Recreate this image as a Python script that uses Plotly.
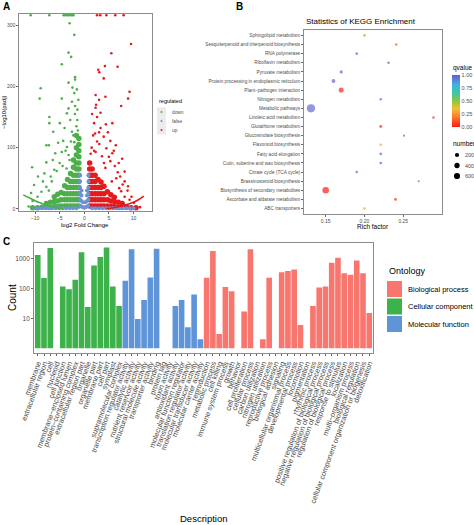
import math
import plotly.graph_objects as go

W, H = 474, 525
FONT = "Liberation Sans, Arial, sans-serif"
GREY_TXT = "#4D4D4D"
BORDER = "#8C8C8C"


def px(x):
    return x / W


def py(y):
    return 1 - y / H


# ---------------- Panel A : volcano ----------------
C_DOWN, C_FALSE, C_UP = "#4DAF4A", "#6A93D8", "#E41A1C"

down_sparse = [(-2.98, 303), (-2.03, 284), (-3.2, 255), (-2.66, 248), (-4.56, 236), (-1.87, 215), (-1.87, 211),
               (-3.2, 206), (-8.86, 197), (-9.07, 180), (-4.56, 180), (-2.03, 189), (-2.5, 175), (-1.87, 168),
               (-3.2, 164), (-1.38, 162), (-7.1, 150), (-7.1, 140), (-3.52, 156), (-2.85, 145), (-4.97, 140),
               (-1.42, 145), (-4.0, 132), (-2.5, 126), (-6.3, 126), (-7.7, 104), (-7.2, 104), (-5.3, 108),
               (-4.28, 111), (-3.52, 101), (-2.03, 109), (-4.56, 93), (-5.9, 91), (-3.2, 88), (-10.6, 68),
               (-7.7, 76), (-6.4, 80), (-6.1, 64), (-8.1, 58), (-9.4, 53), (-6.8, 53), (-8.4, 45), (-10.2, 39),
               (-7.7, 36), (-8.7, 28), (-10.8, 26), (-9.5, 20), (-10.5, 13), (-11.3, 4), (-1.6, 135), (-2.2, 120),
               (-1.3, 128), (-2.7, 110), (-3.8, 95), (-5.0, 75), (-4.4, 70), (-5.6, 62), (-6.6, 45), (-7.2, 30),
               (-3.0, 80), (-3.6, 66), (-1.9, 155), (-1.2, 178), (-2.4, 198), (-1.5, 195),
               (-4.2, 316), (-3.9, 316), (-3.5, 316), (-3.2, 316), (-2.85, 316), (-2.5, 316), (-2.2, 316),
               (-10.9, 316), (-7.1, 316)]
down_core = [(-1.1, 5), (-1.1, 15), (-1.1, 25), (-1.1, 35), (-1.1, 45), (-1.1, 55), (-1.1, 65), (-1.1, 75),
             (-1.1, 85), (-1.1, 95), (-1.1, 105), (-1.1, 115),
             (-1.6, 5), (-1.6, 15), (-1.6, 25), (-1.6, 35), (-1.6, 45), (-1.6, 55), (-1.6, 65), (-1.6, 75),
             (-1.6, 88), (-1.6, 100), (-1.6, 120),
             (-2.2, 5), (-2.2, 15), (-2.2, 25), (-2.2, 35), (-2.2, 45), (-2.2, 55), (-2.2, 68), (-2.2, 80),
             (-2.8, 5), (-2.8, 15), (-2.8, 25), (-2.8, 35), (-2.8, 45), (-2.8, 58),
             (-3.4, 5), (-3.4, 15), (-3.4, 25), (-3.4, 35), (-3.4, 48),
             (-4.0, 5), (-4.0, 15), (-4.0, 25), (-4.0, 38),
             (-4.7, 5), (-4.7, 15), (-4.7, 27),
             (-5.4, 4), (-5.4, 13), (-5.4, 24),
             (-6.1, 4), (-6.1, 12), (-6.1, 20),
             (-6.9, 3), (-6.9, 11), (-7.7, 3), (-7.7, 9), (-8.6, 3), (-9.5, 2), (-10.5, 2)]

up_sparse = [(9.5, 269), (5.5, 254), (6.77, 232), (4.2, 233), (2.85, 227), (3.05, 223), (3.95, 213), (9.2, 191),
             (8.9, 180), (7.5, 168), (2.3, 186), (3.0, 178), (4.3, 183), (2.3, 165), (3.3, 157), (2.6, 150),
             (5.7, 140), (4.4, 138), (3.3, 132), (2.2, 123), (3.95, 118), (5.3, 111), (3.05, 106), (6.4, 104),
             (4.5, 99), (2.3, 93), (5.7, 91), (3.6, 86), (7.7, 82), (5.3, 78), (6.2, 70), (4.3, 67), (8.2, 61),
             (7.3, 53), (5.6, 45), (8.2, 45), (8.9, 37), (7.1, 34), (7.5, 29), (9.6, 20), (8.2, 20), (10.1, 10),
             (11.3, 3), (1.5, 100), (1.8, 120), (2.0, 95), (1.3, 90), (2.6, 110), (2.0, 140), (1.6, 155),
             (3.0, 125), (4.8, 125), (6.0, 95), (7.0, 75), (6.8, 60), (5.0, 85), (4.0, 75), (8.8, 30), (7.8, 40),
             (9.2, 15), (6.5, 50), (2.4, 170),
             (2.6, 316), (3.25, 316), (4.5, 316), (6.3, 316), (8.0, 316)]
up_core = [(1.1, 5), (1.1, 15), (1.1, 25), (1.1, 35), (1.1, 45), (1.1, 55), (1.1, 65), (1.1, 75),
           (1.6, 5), (1.6, 15), (1.6, 25), (1.6, 35), (1.6, 45), (1.6, 55), (1.6, 65),
           (2.2, 5), (2.2, 15), (2.2, 25), (2.2, 35), (2.2, 45), (2.2, 55),
           (2.8, 5), (2.8, 15), (2.8, 25), (2.8, 35), (2.8, 48),
           (3.4, 5), (3.4, 15), (3.4, 25), (3.4, 35), (3.4, 44),
           (4.0, 5), (4.0, 15), (4.0, 25), (4.0, 37),
           (4.7, 5), (4.7, 15), (4.7, 28),
           (5.4, 4), (5.4, 13), (5.4, 23),
           (6.1, 4), (6.1, 12), (6.1, 19),
           (6.9, 3), (6.9, 11), (7.7, 3), (7.7, 9), (8.6, 3), (9.5, 2), (10.5, 2)]

false_pts = [(-0.85, 5), (-0.85, 15), (-0.85, 25), (-0.85, 35), (-0.85, 45), (-0.85, 55),
             (0.85, 5), (0.85, 15), (0.85, 25), (0.85, 35), (0.85, 45), (0.85, 55),
             (-0.55, 4), (-0.55, 13), (-0.55, 22), (-0.55, 30), (0.55, 4), (0.55, 13), (0.55, 22), (0.55, 30),
             (-0.25, 3), (-0.25, 11), (0.25, 3), (0.25, 11), (0.0, 2),
             (-10, 1), (-9.3, 1), (-8.6, 1), (-7.9, 1), (-7.2, 1), (-6.5, 1), (-5.8, 1), (-5.1, 1), (-4.4, 1),
             (-3.7, 1), (-3.0, 1), (-2.3, 1), (-1.6, 1), (1.6, 1), (2.3, 1), (3.0, 1), (3.7, 1), (4.4, 1),
             (5.1, 1), (5.8, 1), (6.5, 1), (7.2, 1), (7.9, 1), (8.6, 1), (9.3, 1), (10.0, 1)]

down_curve = [(-12.4, 23), (-11, 17.5), (-10, 13.5), (-9, 10), (-8, 7), (-7, 4.5), (-6, 2.5), (-5, 1.2),
              (-4.3, 0.5)]
up_curve = [(4.5, 0.5), (5.3, 1.2), (6, 2), (7, 3.5), (8, 5.5), (9, 8), (10, 11), (11, 15), (12.1, 21)]

# ---------------- Panel B : KEGG ----------------
kegg_terms = ["Sphingolipid metabolism", "Sesquiterpenoid and triterpenoid biosynthesis", "RNA polymerase",
              "Riboflavin metabolism", "Pyruvate metabolism", "Protein processing in endoplasmic reticulum",
              "Plant\u2212pathogen interaction", "Nitrogen metabolism", "Metabolic pathways",
              "Linoleic acid metabolism", "Glutathione metabolism", "Glucosinolate biosynthesis",
              "Flavonoid biosynthesis", "Fatty acid elongation", "Cutin, suberine and wax biosynthesis",
              "Citrate cycle (TCA cycle)", "Brassinosteroid biosynthesis", "Biosynthesis of secondary metabolites",
              "Ascorbate and aldarate metabolism", "ABC transporters"]
kegg_rich = [0.20, 0.241, 0.19, 0.231, 0.17, 0.16, 0.17, 0.221, 0.131, 0.289, 0.221, 0.251, 0.221, 0.221,
             0.221, 0.19, 0.27, 0.15, 0.24, 0.20]
kegg_q = [0.52, 0.12, 1.0, 1.0, 1.0, 0.98, 0.02, 1.0, 0.96, 0.04, 0.03, 1.0, 0.3, 1.0, 1.0, 1.0, 1.0, 0.0, 0.03,
          0.3]
kegg_n = [40, 30, 35, 25, 70, 150, 350, 25, 1250, 30, 60, 10, 40, 30, 35, 30, 8, 700, 50, 45]
size_legend = [200, 400, 600]
q_ticks = [0, 0.25, 0.5, 0.75, 1.0]


def dot_px(n):
    return 1.5 + 0.19 * math.sqrt(n)


q_scale = [[0, "#FF1A1A"], [0.2, "#FF7A2E"], [0.35, "#F0C030"], [0.5, "#8CC63F"], [0.65, "#3CC8A0"],
           [0.8, "#40B5E5"], [1, "#6A5ACD"]]

# ---------------- Panel C : GO ----------------
go_cc = ["membrane", "extracellular region", "cell", "nucleoid", "cell junction", "membrane\u2212enclosed lumen",
         "protein\u2212containing complex", "extracellular region part", "organelle", "organelle part",
         "membrane part", "cell part", "symplast", "supramolecular complex"]
go_cc_n = [1300, 220, 2200, 1, 115, 93, 194, 1600, 24, 575, 1100, 2300, 115, 26]
go_mf = ["transcription regulator activity", "catalytic activity", "nutrient reservoir activity",
         "structural molecule activity", "transporter activity", "binding", "protein tag", "toxin activity",
         "antioxidant activity", "molecular function regulator", "translation regulator activity",
         "molecular transducer activity", "molecular carrier activity"]
go_mf_n = [180, 2000, 9.5, 41, 230, 2100, 1, 1, 26, 41, 5, 62, 2]
go_bp = ["reproduction", "metabolic process", "cell killing", "immune system process", "growth", "behavior",
         "cell proliferation", "cellular process", "carbon utilization", "nitrogen utilization",
         "reproductive process", "biological adhesion", "signaling", "multicellular organismal process",
         "developmental process", "locomotion", "pigmentation", "rhythmic process",
         "positive regulation of biological process", "negative regulation of biological process",
         "regulation of biological process", "response to stimulus", "localization", "multi\u2212organism process",
         "biological regulation", "cellular component organization or biogenesis", "detoxification"]
go_bp_n = [225, 1750, 3, 110, 80, 1, 17, 2000, 1, 2, 225, 1, 340, 380, 420, 6, 1, 26, 106, 115, 710, 1040, 315,
           285, 850, 315, 15]
go_order = go_cc + go_mf + go_bp
ont_names = ["Biological process", "Cellular component", "Molecular function"]
ont_colors = ["#F8766D", "#3DB14A", "#5E95D8"]

fig = go.Figure()

# ---- A traces
for pts, col, sz in [(down_core, C_DOWN, 5.5), (up_core, C_UP, 5.5), (down_sparse, C_DOWN, 2.6),
                     (up_sparse, C_UP, 2.6), (false_pts, C_FALSE, 4)]:
    fig.add_trace(go.Scatter(x=[p[0] for p in pts], y=[p[1] for p in pts], mode="markers",
                             marker=dict(color=col, size=sz, line=dict(width=0)), xaxis="x", yaxis="y",
                             showlegend=False, hoverinfo="skip"))
for pts, col in [(down_curve, C_DOWN), (up_curve, C_UP)]:
    fig.add_trace(go.Scatter(x=[p[0] for p in pts], y=[p[1] for p in pts], mode="lines",
                             line=dict(color=col, width=1.6, shape="spline"), xaxis="x", yaxis="y",
                             showlegend=False, hoverinfo="skip"))

# ---- B trace
fig.add_trace(go.Scatter(
    x=kegg_rich, y=kegg_terms, mode="markers", xaxis="x2", yaxis="y2", showlegend=False,
    marker=dict(size=[dot_px(n) for n in kegg_n], color=kegg_q, colorscale=q_scale, cmin=0, cmax=1,
                line=dict(width=0),
                colorbar=dict(x=px(452), xanchor="left", y=py(101), yanchor="middle", len=52, lenmode="pixels",
                              thickness=8, thicknessmode="pixels", tickvals=q_ticks,
                              ticktext=["%.2f" % t for t in q_ticks], tickfont=dict(size=5.5, color=GREY_TXT),
                              outlinewidth=0, ticks="", xpad=0, ypad=0)),
))

# ---- C traces
groups = [(go_bp, go_bp_n, 0), (go_cc, go_cc_n, 1), (go_mf, go_mf_n, 2)]
for names, counts, k in groups:
    fig.add_trace(go.Bar(x=names, y=[c - 1 for c in counts], base=1, marker=dict(color=ont_colors[k],
                                                                                  line=dict(width=0)),
                         xaxis="x3", yaxis="y3", showlegend=False, name=ont_names[k]))

axis_common = dict(showline=True, mirror=True, linecolor=BORDER, linewidth=0.8, showgrid=False, zeroline=False,
                   ticks="outside", ticklen=2, tickcolor="#666666", tickwidth=0.6, automargin=False)

fig.update_layout(
    width=W, height=H, margin=dict(l=0, r=0, t=0, b=0, autoexpand=False), paper_bgcolor="white",
    plot_bgcolor="white",
    font=dict(family=FONT, color="black"),
    bargap=0.1,
    xaxis=dict(domain=[px(19.3), px(151.7)], range=[-13.2, 13.7], tickvals=[-10, -5, 0, 5, 10],
               tickfont=dict(size=5, color=GREY_TXT), anchor="y", **axis_common),
    yaxis=dict(domain=[py(211), py(14)], range=[-3.3, 318], tickvals=[0, 100, 200, 300],
               tickfont=dict(size=5, color=GREY_TXT), anchor="x", **axis_common),
    xaxis2=dict(domain=[px(304), px(442)], range=[0.122, 0.300], tickvals=[0.15, 0.20, 0.25],
                ticktext=["0.15", "0.20", "0.25"], tickfont=dict(size=5, color=GREY_TXT), anchor="y2",
                **axis_common),
    yaxis2=dict(domain=[py(214), py(30)], type="category", categoryorder="array",
                categoryarray=kegg_terms[::-1], range=[-0.6, 19.6], tickfont=dict(size=4.7, color=GREY_TXT),
                anchor="x2", **axis_common),
    xaxis3=dict(domain=[px(34), px(373)], type="category", categoryorder="array", categoryarray=go_order,
                tickmode="array", tickvals=go_order, ticktext=go_order,
                range=[-0.6, len(go_order) - 0.4], tickangle=-70, tickfont=dict(size=7.4, color=GREY_TXT),
                anchor="y3", **axis_common),
    yaxis3=dict(domain=[py(353.3), py(243.3)], type="log", range=[-0.165, 3.5], tickvals=[10, 100, 1000],
                ticktext=["10", "100", "1000"], tickfont=dict(size=6.5, color=GREY_TXT), anchor="x3",
                **axis_common),
)

ann = []


def text(x, y, s, size, xanchor="center", color="black", angle=0, bold=False):
    ann.append(dict(x=px(x), y=py(y), xref="paper", yref="paper", text=("<b>%s</b>" % s) if bold else s,
                    showarrow=False, xanchor=xanchor, yanchor="middle", textangle=angle,
                    font=dict(size=size, color=color, family=FONT)))


text(1, 6, "A", 10, "left", bold=True)
text(234, 6, "B", 10, "left", bold=True)
text(1, 241, "C", 10, "left", bold=True)
text(4, 112, "\u2212log10(padj)", 6, angle=-90)
text(85, 225, "log2 Fold Change", 6)
text(157, 101, "regulated", 5.5, "left")
for i, lab in enumerate(["down", "false", "up"]):
    text(170, 112 + 9 * i, lab, 4.8, "left", GREY_TXT)
text(304, 22, "Statistics of KEGG Enrichment", 8, "left")
text(373, 227, "Rich factor", 6.5)
text(451, 68, "qvalue", 6.5, "left")
text(451, 143, "number", 6.5, "left")
for i, n in enumerate(size_legend):
    text(463, 155 + 10.5 * i, str(n), 5.5, "left", GREY_TXT)
text(12, 298, "Count", 10, angle=-90)
text(203.5, 518, "Description", 9.5)
text(387, 271, "Ontology", 9, "left")
for i, name in enumerate(ont_names):
    text(406, 289 + 17.5 * i, name, 7.5, "left")

shapes = []
for i, col in enumerate([C_DOWN, C_FALSE, C_UP]):
    cy = 112 + 9 * i
    shapes.append(dict(type="rect", xref="paper", yref="paper", x0=px(157), x1=px(166), y0=py(cy + 4.5),
                       y1=py(cy - 4.5), fillcolor="#EBEBEB", line=dict(width=0), layer="below"))
    shapes.append(dict(type="circle", xref="paper", yref="paper", x0=px(160.5), x1=px(162.5), y0=py(cy + 1),
                       y1=py(cy - 1), fillcolor=col, line=dict(width=0)))
for i, n in enumerate(size_legend):
    cy = 155 + 10.5 * i
    r = dot_px(n) / 2
    shapes.append(dict(type="circle", xref="paper", yref="paper", x0=px(457 - r), x1=px(457 + r),
                       y0=py(cy + r), y1=py(cy - r), fillcolor="black", line=dict(width=0)))
for i, col in enumerate(ont_colors):
    top = 281 + 17.5 * i
    shapes.append(dict(type="rect", xref="paper", yref="paper", x0=px(387), x1=px(402), y0=py(top + 16),
                       y1=py(top), fillcolor=col, line=dict(width=0)))

fig.update_layout(annotations=ann, shapes=shapes)
fig.write_html("out.html", config={"displayModeBar": False},
               post_script="document.body.style.margin='0px';")
